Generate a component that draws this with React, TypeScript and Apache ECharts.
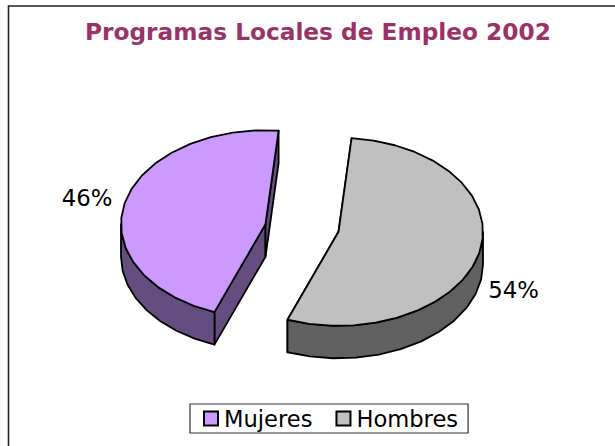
import React, { useEffect, useRef } from "react";
import * as echarts from "echarts";

const categories = ["Mujeres", "Hombres"];
const values = [45.7, 54.3];
const topColors = ["#CC99FF", "#C0C0C0"];
const sideColors = ["#664D80", "#606060"];
const titleText = "Programas Locales de Empleo 2002";

const CX = 302, CY = 228, RX = 144.5, RY = 94, DEPTH = 32.5;
const EXPLODE_X = 36.5, EXPLODE_Y = 3.8;
const START_DEG = 5.2;
const STEP_DEG = 9;
const FONT = "DejaVu Sans, Verdana, sans-serif";
const total = values.reduce((a, b) => a + b, 0);

// Start angle per slice, clockwise from the top. Hombres begins at START_DEG, Mujeres follows.
function sliceRange(index: number) {
  const sweep = (values[index] / total) * 360;
  const hombresSweep = (values[1] / total) * 360;
  const start = index === 1 ? START_DEG : START_DEG + hombresSweep;
  return [start, start + sweep, sweep];
}

function pt(cx: number, cy: number, deg: number, dy = 0) {
  const a = (deg * Math.PI) / 180;
  return [cx + RX * Math.sin(a), cy - RY * Math.cos(a) + dy];
}

function arcPts(cx: number, cy: number, a0: number, a1: number, dy = 0) {
  const out: number[][] = [];
  const n = Math.max(1, Math.round((a1 - a0) / STEP_DEG));
  for (let i = 0; i <= n; i++) out.push(pt(cx, cy, a0 + ((a1 - a0) * i) / n, dy));
  return out;
}

function makeRenderItem(index: number, labelPos: number[]) {
  return (_params: any, api: any) => {
    const value = api.value(0);
    const [a0, a1] = sliceRange(index);
    const mid = (a0 + a1) / 2;
    const sgn = Math.sin((mid * Math.PI) / 180) > 0 ? 1 : -1;
    const cx = CX + sgn * EXPLODE_X;
    const cy = CY + sgn * EXPLODE_Y;
    const lineStyle = { stroke: "#000", lineWidth: 1.8, lineJoin: "round" };
    const side = { fill: sideColors[index], ...lineStyle };
    const top = { fill: topColors[index], ...lineStyle };
    const face = (deg: number) => {
      const p = pt(cx, cy, deg);
      return {
        type: "polygon",
        shape: { points: [[cx, cy], p, [p[0], p[1] + DEPTH], [cx, cy + DEPTH]] },
        style: side,
      };
    };
    const wa0 = Math.max(a0, 90), wa1 = Math.min(a1, 270);
    const wallTop = arcPts(cx, cy, wa0, wa1);
    const wallBottom = arcPts(cx, cy, wa0, wa1, DEPTH).reverse();
    return {
      type: "group",
      children: [
        face(a0),
        face(a1),
        { type: "polygon", shape: { points: [...wallTop, ...wallBottom] }, style: side },
        { type: "polygon", shape: { points: [[cx, cy], ...arcPts(cx, cy, a0, a1)] }, style: top },
        {
          type: "text",
          style: {
            x: labelPos[0],
            y: labelPos[1],
            text: `${Math.round(value)}%`,
            fill: "#000",
            font: `22.8px ${FONT}`,
            align: "center",
            verticalAlign: "middle",
          },
        },
      ],
    };
  };
}

const labelPositions = [[87, 198], [513.5, 290]];

export default function App() {
  const ref = useRef<HTMLDivElement>(null);
  useEffect(() => {
    document.body.style.margin = "0";
    const chart = echarts.init(ref.current!, undefined, { renderer: "svg" });
    chart.setOption({
      animation: false,
      backgroundColor: "#fff",
      title: {
        text: titleText,
        left: 80,
        top: 15,
        textStyle: { color: "#993366", fontFamily: FONT, fontWeight: "bold", fontSize: 23.25 },
      },
      legend: {
        data: categories,
        left: 190,
        top: 404,
        orient: "horizontal",
        icon: "rect",
        itemWidth: 14,
        itemHeight: 14,
        itemGap: 23,
        padding: [3, 10, 3, 13],
        borderColor: "#333",
        borderWidth: 1.2,
        selectedMode: false,
        textStyle: { fontFamily: FONT, fontSize: 22.6, color: "#000", padding: [0, 0, 0, 1] },
      },
      graphic: [
        {
          type: "rect",
          z: -10,
          shape: { x: 8.5, y: 6, width: 640, height: 460 },
          style: { fill: "none", stroke: "#222", lineWidth: 1.6 },
          silent: true,
        },
      ],
      series: categories.map((name, i) => ({
        type: "custom",
        name,
        coordinateSystem: "none",
        silent: true,
        itemStyle: { color: topColors[i], borderColor: "#000", borderWidth: 1.8 },
        renderItem: makeRenderItem(i, labelPositions[i]),
        data: [[values[i]]],
      })),
    });
    return () => chart.dispose();
  }, []);
  return <div ref={ref} style={{ width: 615, height: 446 }} />;
}
